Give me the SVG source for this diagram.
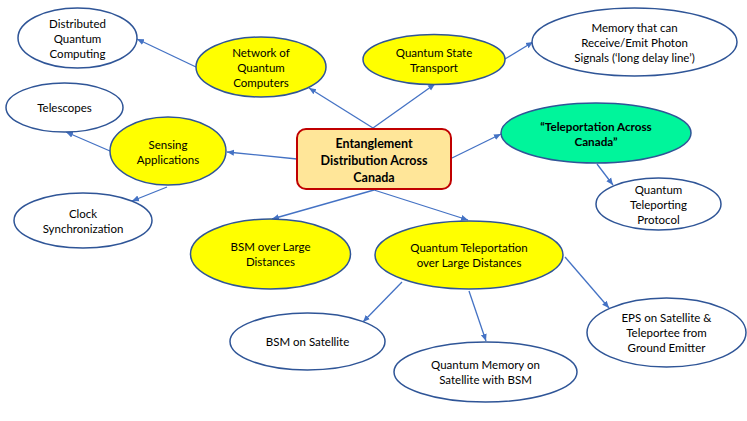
<svg xmlns="http://www.w3.org/2000/svg" width="747" height="421" viewBox="0 0 747 421">
<defs>
<marker id="ah" markerUnits="userSpaceOnUse" markerWidth="8" markerHeight="8" viewBox="0 0 8 8" refX="7" refY="4" orient="auto">
<path d="M0,1 L7,4 L0,7 Z" fill="#4472C4"/>
</marker>
<style>
.e{stroke:#2F5597;stroke-width:1.5}
.w{fill:#FFFFFF}
.y{fill:#FFFF00}
.g{fill:#00F59B}
.t{font-family:Lato,"Open Sans","Liberation Sans",sans-serif;font-size:11.5px;fill:#000;text-anchor:middle}
.b{font-weight:bold;font-size:12.5px}
.gb{font-size:11.7px}
.c line{stroke:#4472C4;stroke-width:1.3;marker-end:url(#ah)}
</style>
</defs>
<rect width="747" height="421" fill="#FFFFFF"/>
<g class="c" id="connectors">
<line x1="373" y1="128" x2="309" y2="88"/>
<line x1="373" y1="128" x2="435" y2="84"/>
<line x1="196" y1="67" x2="137" y2="39"/>
<line x1="505" y1="59" x2="533" y2="42"/>
<line x1="297" y1="159" x2="227" y2="152"/>
<line x1="110" y1="151" x2="66" y2="132"/>
<line x1="167" y1="187" x2="132" y2="201"/>
<line x1="452" y1="158" x2="501" y2="134"/>
<line x1="597" y1="164" x2="613" y2="185"/>
<line x1="374" y1="190" x2="272" y2="219"/>
<line x1="374" y1="190" x2="468" y2="220"/>
<line x1="402" y1="282" x2="363" y2="322"/>
<line x1="469" y1="291" x2="486" y2="341"/>
<line x1="565" y1="257" x2="609" y2="308"/>
</g>
<g id="center">
<rect x="297" y="129" width="154" height="60" rx="9" fill="#FFE699" stroke="#C00000" stroke-width="2"/>
<text class="t b" x="374" y="148">Entanglement</text>
<text class="t b" x="374" y="165">Distribution Across</text>
<text class="t b" x="374" y="182">Canada</text>
</g>
<g id="distributed">
<ellipse class="e w" cx="77.5" cy="38" rx="59.5" ry="30"/>
<text class="t" x="77.5" y="28">Distributed</text>
<text class="t" x="77.5" y="43">Quantum</text>
<text class="t" x="77.5" y="58">Computing</text>
</g>
<g id="network">
<ellipse class="e y" cx="261" cy="67" rx="65" ry="30"/>
<text class="t" x="261" y="57">Network of</text>
<text class="t" x="261" y="72">Quantum</text>
<text class="t" x="261" y="87">Computers</text>
</g>
<g id="telescopes">
<ellipse class="e w" cx="64.5" cy="107.5" rx="58.5" ry="24.5"/>
<text class="t" x="64.5" y="112">Telescopes</text>
</g>
<g id="sensing">
<ellipse class="e y" cx="168" cy="151" rx="58" ry="34"/>
<text class="t" x="168" y="149">Sensing</text>
<text class="t" x="168" y="164">Applications</text>
</g>
<g id="clock">
<ellipse class="e w" cx="83" cy="220.5" rx="69" ry="27.5"/>
<text class="t" x="83" y="218">Clock</text>
<text class="t" x="83" y="233">Synchronization</text>
</g>
<g id="bsm-large">
<ellipse class="e y" cx="270.5" cy="254" rx="80" ry="35"/>
<text class="t" x="270.5" y="251">BSM over Large</text>
<text class="t" x="270.5" y="266">Distances</text>
</g>
<g id="bsm-satellite">
<ellipse class="e w" cx="307.5" cy="341.5" rx="77.5" ry="28.5"/>
<text class="t" x="307.5" y="346">BSM on Satellite</text>
</g>
<g id="qt-large">
<ellipse class="e y" cx="469" cy="255" rx="94" ry="34"/>
<text class="t" x="469" y="252">Quantum Teleportation</text>
<text class="t" x="469" y="267">over Large Distances</text>
</g>
<g id="qmemory">
<ellipse class="e w" cx="485.5" cy="372" rx="91.5" ry="30"/>
<text class="t" x="485.5" y="369">Quantum Memory on</text>
<text class="t" x="485.5" y="384">Satellite with BSM</text>
</g>
<g id="eps">
<ellipse class="e w" cx="666.5" cy="332.5" rx="79.5" ry="34.5"/>
<text class="t" x="666.5" y="322">EPS on Satellite &amp;</text>
<text class="t" x="666.5" y="337">Teleportee from</text>
<text class="t" x="666.5" y="352">Ground Emitter</text>
</g>
<g id="protocol">
<ellipse class="e w" cx="658.5" cy="204" rx="62.5" ry="26"/>
<text class="t" x="658.5" y="194">Quantum</text>
<text class="t" x="658.5" y="209">Teleporting</text>
<text class="t" x="658.5" y="224">Protocol</text>
</g>
<g id="teleportation-canada">
<ellipse class="e g" cx="596" cy="133" rx="95" ry="30"/>
<text class="t b gb" x="596" y="131">“Teleportation Across</text>
<text class="t b gb" x="596" y="146">Canada”</text>
</g>
<g id="state-transport">
<ellipse class="e y" cx="434" cy="59.5" rx="71" ry="25"/>
<text class="t" x="434" y="57">Quantum State</text>
<text class="t" x="434" y="72">Transport</text>
</g>
<g id="memory">
<ellipse class="e w" cx="634.5" cy="42" rx="102.5" ry="34"/>
<text class="t" x="634.5" y="32">Memory that can</text>
<text class="t" x="634.5" y="47">Receive/Emit Photon</text>
<text class="t" x="634.5" y="62">Signals (‘long delay line’)</text>
</g>
</svg>
